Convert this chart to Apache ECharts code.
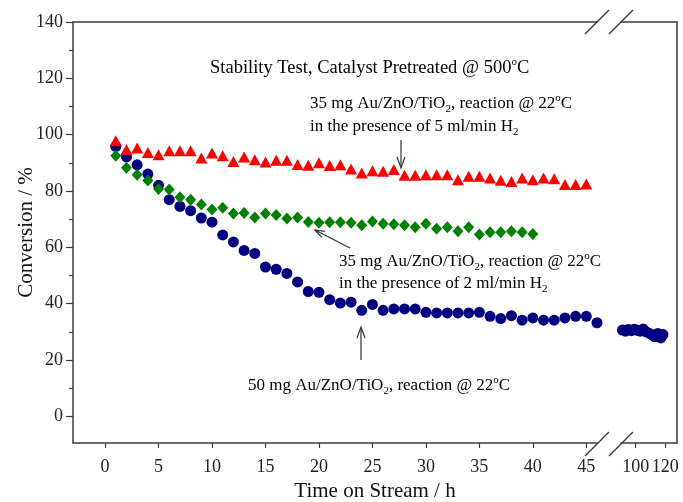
<!DOCTYPE html>
<html>
<head>
<meta charset="utf-8">
<script src="https://cdn.jsdelivr.net/npm/echarts@6.0.0/dist/echarts.min.js"></script>
<style>
  html, body { margin: 0; padding: 0; background: #fff; }
  #stability { width: 683px; height: 502px; }
</style>
</head>
<body>
<div id="stability"></div>
<script>
// 50 mg Au/ZnO/TiO2 (blue circles), 0-46 h
var blueHours = [1, 2, 3, 4, 5, 6, 7, 8, 9, 10, 11, 12, 13, 14, 15, 16, 17, 18, 19, 20, 21, 22, 23,
  24, 25, 26, 27, 28, 29, 30, 31, 32, 33, 34, 35, 36, 37, 38, 39, 40, 41, 42, 43, 44, 45, 46]
var blueConv = [95.8, 92.1, 89.3, 86.0, 82.0, 76.9, 74.5, 73.0, 70.4, 68.9, 64.4, 61.9, 58.9, 57.8,
  53.0, 52.2, 50.7, 47.7, 44.3, 44.0, 41.4, 40.2, 40.5, 37.6, 39.7, 37.6, 38.1, 38.1, 38.1, 36.9,
  36.7, 36.7, 36.7, 36.7, 36.9, 35.5, 34.7, 35.7, 34.1, 34.9, 34.1, 34.1, 34.9, 35.5, 35.5, 33.2]
// same run, after the axis break
var blueLateHours = [91, 93, 95, 97, 99, 101, 103, 105, 107, 109, 111, 113, 115, 117, 118.5]
var blueLateConv = [30.6, 30.2, 30.8, 30.4, 30.9, 30.5, 30.2, 31.0, 30.0, 29.5, 28.9, 28.2, 29.4, 27.8, 29.0]

// 35 mg, 5 ml/min H2 (red triangles)
var redHours = [1, 2, 3, 4, 5, 6, 7, 8, 9, 10, 11, 12, 13, 14, 15, 16, 17, 18, 19, 20, 21, 22, 23,
  24, 25, 26, 27, 28, 29, 30, 31, 32, 33, 34, 35, 36, 37, 38, 39, 40, 41, 42, 43, 44, 45]
var redConv = [97.8, 94.7, 95.3, 93.7, 92.9, 94.3, 94.3, 94.3, 91.7, 93.5, 92.5, 90.5, 92.1, 91.1,
  90.3, 90.9, 90.9, 89.4, 89.1, 90.0, 89.0, 89.3, 87.8, 86.4, 87.2, 87.0, 87.6, 85.6, 85.6, 85.8,
  85.8, 85.8, 84.0, 85.2, 85.2, 84.6, 83.8, 83.4, 84.6, 84.0, 84.6, 84.3, 82.3, 82.3, 82.5]

// 35 mg, 2 ml/min H2 (green diamonds)
var greenHours = [1, 2, 3, 4, 5, 6, 7, 8, 9, 10, 11, 12, 13, 14, 15, 16, 17, 18, 19, 20,
  21, 22, 23, 24, 25, 26, 27, 28, 29, 30, 31, 32, 33, 34, 35, 36, 37, 38, 39, 40]
var greenConv = [92.5, 88.2, 85.8, 83.7, 80.7, 80.5, 77.8, 76.9, 75.2, 73.4, 74.0, 72.0, 72.2, 70.6,
  72.0, 71.5, 70.2, 70.6, 69.0, 68.7, 68.9, 68.9, 68.7, 67.8, 69.2, 68.4, 68.2, 67.8, 67.1, 68.4,
  66.6, 67.1, 65.7, 67.1, 64.5, 65.3, 65.3, 65.7, 65.3, 64.7]

// tick labels
var xTicksMain = [0, 5, 10, 15, 20, 25, 30, 35, 40, 45]
var xTicksLate = [100, 120]
var yTicks = [0, 20, 40, 60, 80, 100, 120, 140]
var yMinorTicks = [10, 30, 50, 70, 90, 110, 130]

function pairs(xs, ys) {
  return xs.map(function (x, i) { return [x, ys[i]] })
}

var serif = "'Liberation Serif', 'Times New Roman', serif"
var frameColor = '#3c3c3c'
var frameLine = { show: true, onZero: false, lineStyle: { color: frameColor, width: 1.5 } }
var tickLabel = { fontFamily: serif, fontSize: 18, color: '#222' }

// rich text styles for the annotations
var rich = {
  a: { fontFamily: serif, fontSize: 17, color: '#111', lineHeight: 22 },
  sub: { fontFamily: serif, fontSize: 11, color: '#111', lineHeight: 12, verticalAlign: 'bottom' },
  sup: { fontFamily: serif, fontSize: 11, color: '#111', lineHeight: 12, verticalAlign: 'top' }
}

function note(x, y, text, size) {
  var r = JSON.parse(JSON.stringify(rich))
  if (size) r.a.fontSize = size
  return {
    type: 'text', z: 50,
    style: { x: x, y: y, text: text, rich: r, textAlign: 'left', textVerticalAlign: 'middle' }
  }
}

function seg(x1, y1, x2, y2) {
  return { type: 'line', z: 50, shape: { x1: x1, y1: y1, x2: x2, y2: y2 }, style: { stroke: '#333', lineWidth: 1.2 } }
}
function head(points) {
  return { type: 'polyline', z: 50, shape: { points: points }, style: { stroke: '#333', lineWidth: 1.2, fill: null } }
}

var myChart = echarts.init(document.getElementById('stability'))
var option = {
  animation: false,
  backgroundColor: '#fff',
  grid: [
    { left: 73, top: 22, width: 524, height: 421 },
    { left: 621, top: 22, width: 56, height: 421 }
  ],
  xAxis: [
    {
      gridIndex: 0, type: 'value', min: -3, max: 46, position: 'bottom',
      axisLine: frameLine,
      axisTick: { show: true, customValues: xTicksMain, length: 5, lineStyle: { color: frameColor, width: 1.2 } },
      axisLabel: Object.assign({ customValues: xTicksMain, margin: 15 }, tickLabel),
      splitLine: { show: false }
    },
    {
      gridIndex: 0, type: 'value', min: -3, max: 46, position: 'top',
      axisLine: frameLine, axisTick: { show: false }, axisLabel: { show: false }, splitLine: { show: false }
    },
    {
      gridIndex: 1, type: 'value', min: 90, max: 128, position: 'bottom',
      axisLine: frameLine,
      axisTick: { show: true, customValues: xTicksLate, length: 5, lineStyle: { color: frameColor, width: 1.2 } },
      axisLabel: Object.assign({ customValues: xTicksLate, margin: 15 }, tickLabel),
      splitLine: { show: false }
    },
    {
      gridIndex: 1, type: 'value', min: 90, max: 128, position: 'top',
      axisLine: frameLine, axisTick: { show: false }, axisLabel: { show: false }, splitLine: { show: false }
    }
  ],
  yAxis: [
    {
      gridIndex: 0, type: 'value', min: -9.5, max: 140, position: 'left',
      axisLine: frameLine,
      axisTick: { show: true, customValues: yTicks, length: 7, lineStyle: { color: frameColor, width: 1.2 } },
      axisLabel: Object.assign({ customValues: yTicks, margin: 10 }, tickLabel),
      splitLine: { show: false },
      name: 'Conversion / %', nameLocation: 'middle', nameGap: 36, nameMoveOverlap: false,
      nameTextStyle: { fontFamily: serif, fontSize: 21, color: '#111' }
    },
    {
      // minor ticks
      gridIndex: 0, type: 'value', min: -9.5, max: 140, position: 'left',
      axisLine: { show: false, onZero: false },
      axisTick: { show: true, customValues: yMinorTicks, length: 4, lineStyle: { color: frameColor, width: 1.2 } },
      axisLabel: { show: false }, splitLine: { show: false }
    },
    {
      gridIndex: 1, type: 'value', min: -9.5, max: 140, position: 'right',
      axisLine: frameLine, axisTick: { show: false }, axisLabel: { show: false }, splitLine: { show: false }
    }
  ],
  series: [
    {
      name: '50 mg', type: 'scatter', xAxisIndex: 0, yAxisIndex: 0, clip: false,
      symbol: 'circle', symbolSize: 11, itemStyle: { color: '#000080', opacity: 1 },
      data: pairs(blueHours, blueConv)
    },
    {
      name: '50 mg late', type: 'scatter', xAxisIndex: 2, yAxisIndex: 2, clip: false,
      symbol: 'circle', symbolSize: 11, itemStyle: { color: '#000080', opacity: 1 },
      data: pairs(blueLateHours, blueLateConv)
    },
    {
      name: '35 mg 2 ml/min', type: 'scatter', xAxisIndex: 0, yAxisIndex: 0, clip: false,
      symbol: 'diamond', symbolSize: [11, 12], itemStyle: { color: '#008000', opacity: 1 },
      data: pairs(greenHours, greenConv)
    },
    {
      name: '35 mg 5 ml/min', type: 'scatter', xAxisIndex: 0, yAxisIndex: 0, clip: false,
      symbol: 'triangle', symbolSize: [12, 11], itemStyle: { color: '#ff0000', opacity: 1 },
      data: pairs(redHours, redConv)
    }
  ],
  graphic: [
    note(210, 68, '{a|Stability Test, Catalyst Pretreated @ 500}{sup|o}{a|C}', 18.5),
    note(310, 104, '{a|35 mg Au/ZnO/TiO}{sub|2}{a|, reaction @ 22}{sup|o}{a|C}'),
    note(310, 127, '{a|in the presence of 5 ml/min H}{sub|2}'),
    note(339, 262, '{a|35 mg Au/ZnO/TiO}{sub|2}{a|, reaction @ 22}{sup|o}{a|C}'),
    note(339, 284, '{a|in the presence of 2 ml/min H}{sub|2}'),
    note(248, 386, '{a|50 mg Au/ZnO/TiO}{sub|2}{a|, reaction @ 22}{sup|o}{a|C}'),
    {
      type: 'text', z: 50,
      style: { x: 375, y: 491, text: 'Time on Stream / h', fontFamily: serif, fontSize: 21, fill: '#111',
        textAlign: 'center', textVerticalAlign: 'middle' }
    },
    // arrows
    seg(401, 140, 401, 167), head([[397, 157], [401, 168], [405, 157]]),
    seg(350, 248, 315, 230), head([[321.8, 237.3], [315, 230], [324.9, 231.3]]),
    seg(361, 360, 361, 328), head([[357, 338], [361, 327], [365, 338]]),
    // axis break marks
    seg(585, 34, 609, 10), seg(609, 34, 633, 10),
    seg(585, 456, 609, 432), seg(609, 456, 633, 432)
  ]
}
myChart.setOption(option)
window.addEventListener('resize', () => {
  myChart.resize()
})
</script>
</body>
</html>
